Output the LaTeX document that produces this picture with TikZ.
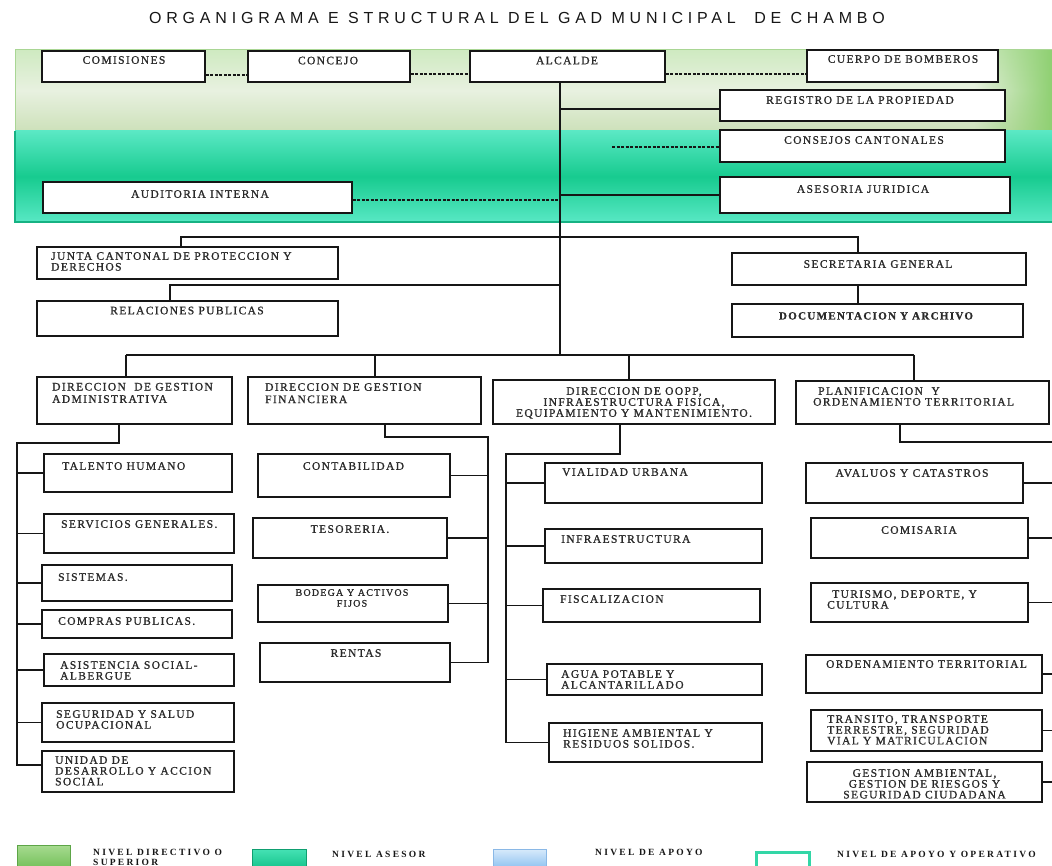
\documentclass[tikz,border=0pt]{standalone}
\usepackage{fontspec}
\setmainfont{Liberation Serif}
\newfontfamily\bxfont{Liberation Serif}[LetterSpace=12, FakeBold=1]
\newfontfamily\lgfont{Liberation Serif}[LetterSpace=24]
\newfontfamily\ttlfont{Liberation Sans}[LetterSpace=30]
\usetikzlibrary{fit,fadings}
\definecolor{gA}{HTML}{CFEAC1}
\definecolor{gB}{HTML}{E8F1E0}
\definecolor{gC}{HTML}{CDE1BA}
\definecolor{gEdge}{HTML}{A9D694}
\definecolor{gRight}{HTML}{8FD072}
\definecolor{tA}{HTML}{5AE8C4}
\definecolor{tB}{HTML}{17CB8F}
\definecolor{tC}{HTML}{58E8C4}
\definecolor{tEdge}{HTML}{16B283}
\definecolor{lgGa}{HTML}{A7DB90}
\definecolor{lgGb}{HTML}{74C05A}
\definecolor{lgGd}{HTML}{5DA547}
\definecolor{lgTa}{HTML}{45E2B4}
\definecolor{lgTb}{HTML}{16C48C}
\definecolor{lgTd}{HTML}{0F9F70}
\definecolor{lgBa}{HTML}{D8EAFB}
\definecolor{lgBb}{HTML}{8EC2F0}
\definecolor{lgBd}{HTML}{8AB8E6}
\definecolor{lgW}{HTML}{33D6A6}
\definecolor{ink}{HTML}{161616}
\definecolor{txt}{HTML}{2A2A2A}
\tikzfading[name=fadeR, left color=transparent!100, right color=transparent!0]
\newcommand\orgbox[3]{\node[box, fit={(#2) (#3)}] (#1) {};}
\tikzset{
  box/.style={draw=ink, line width=1.5pt, fill=white, inner sep=0pt},
  lb/.style={inner sep=0pt, text=txt, font=\bxfont\fontsize{11.5}{10.8}\selectfont},
  lbl/.style={lb, anchor=north west, align=left},
  lbc/.style={lb, anchor=north, align=center},
  ln/.style={draw=ink, line width=1.3pt},
  dsh/.style={draw=ink, line width=1.1pt, dash pattern=on 3pt off 1.5pt},
  lgtext/.style={inner sep=0pt, anchor=north west, align=left, text=ink,
    font=\lgfont\bfseries\fontsize{9.5}{9.2}\selectfont}
}
\begin{document}
\begin{tikzpicture}[x=1pt,y=-1pt]
\useasboundingbox (0,0) rectangle (1052,866);
% title
\node[anchor=base, inner sep=0pt, text=ink, font=\ttlfont\fontsize{16}{16}\selectfont] (title) at (517,24)
  {ORGANIGRAMA E STRUCTURAL DEL GAD MUNICIPAL\ \ DE CHAMBO};
% bands
\shade[top color=gA, bottom color=gC, middle color=gB] (15,50) rectangle (1052,131);
\fill[gRight, path fading=fadeR] (975,50) rectangle (1052,131);
\draw[gEdge, line width=1pt] (15,131) -- (15,50) -- (1052,50);
\shade[top color=tA, bottom color=tC, middle color=tB] (15,131) rectangle (1052,222);
\draw[tEdge, line width=1.2pt] (15,131) -- (15,222) -- (1052,222);
% boxes
\orgbox{comisiones}{42,51}{205,82}
\orgbox{concejo}{248,51}{410,82}
\orgbox{alcalde}{470,51}{665,82}
\orgbox{bomberos}{807,50}{998,82}
\orgbox{registro}{720,90}{1005,121}
\orgbox{consejos}{720,130}{1005,162}
\orgbox{asesoria}{720,177}{1010,213}
\orgbox{auditoria}{43,182}{352,213}
\orgbox{junta}{37,247}{338,279}
\orgbox{relaciones}{37,301}{338,336}
\orgbox{secretaria}{732,253}{1026,285}
\orgbox{documentacion}{732,304}{1023,337}
\orgbox{admin}{37,377}{232,424}
\orgbox{financiera}{248,377}{481,424}
\orgbox{oopp}{493,380}{775,424}
\orgbox{plan}{796,381}{1049,424}
\orgbox{talento}{44,454}{232,492}
\orgbox{servicios}{44,514}{234,553}
\orgbox{sistemas}{42,565}{232,601}
\orgbox{compras}{42,610}{232,638}
\orgbox{asistencia}{44,654}{234,686}
\orgbox{seguridad}{42,703}{234,742}
\orgbox{unidad}{42,751}{234,792}
\orgbox{contabilidad}{258,454}{450,497}
\orgbox{tesoreria}{253,518}{447,558}
\orgbox{bodega}{258,585}{448,622}
\orgbox{rentas}{260,643}{450,682}
\orgbox{vialidad}{545,463}{762,503}
\orgbox{infra}{545,529}{762,563}
\orgbox{fisca}{543,589}{760,622}
\orgbox{agua}{547,664}{762,695}
\orgbox{higiene}{549,723}{762,762}
\orgbox{avaluos}{806,463}{1023,503}
\orgbox{comisaria}{811,518}{1028,558}
\orgbox{turismo}{811,583}{1028,622}
\orgbox{ordenamiento}{806,655}{1042,693}
\orgbox{transito}{811,710}{1042,751}
\orgbox{gestion}{807,762}{1042,802}
% labels
\node[lbc] (t-comisiones) at (124,56) {COMISIONES};
\node[lbc] (t-concejo) at (328,56.5) {CONCEJO};
\node[lbc] (t-alcalde) at (567,56.5) {ALCALDE};
\node[lbc] (t-bomberos) at (903,55) {CUERPO DE BOMBEROS};
\node[lbc] (t-registro) at (860,96) {REGISTRO DE LA PROPIEDAD};
\node[lbc] (t-consejos) at (864,136) {CONSEJOS CANTONALES};
\node[lbc] (t-asesoria) at (863,185) {ASESORIA JURIDICA};
\node[lbc] (t-auditoria) at (200,190) {AUDITORIA INTERNA};
\node[lbl] (t-junta) at (51,252) {JUNTA CANTONAL DE PROTECCION Y\\DERECHOS};
\node[lbc] (t-relaciones) at (187,306.5) {RELACIONES PUBLICAS};
\node[lbc] (t-secretaria) at (878,260) {SECRETARIA GENERAL};
\node[lbc, font=\bxfont\bfseries\fontsize{11}{10.8}\selectfont] (t-documentacion) at (876,312) {DOCUMENTACION Y ARCHIVO};
\node[lbl, font=\bxfont\fontsize{11.5}{12.3}\selectfont] (t-admin) at (52,382.7) {DIRECCION\ \ DE GESTION\\ADMINISTRATIVA};
\node[lbl, font=\bxfont\fontsize{11.5}{12.3}\selectfont] (t-financiera) at (265,383) {DIRECCION DE GESTION\\FINANCIERA};
\node[lbc, font=\bxfont\fontsize{11.5}{11}\selectfont] (t-oopp) at (634,387) {DIRECCION DE OOPP,\\INFRAESTRUCTURA FISICA,\\EQUIPAMIENTO Y MANTENIMIENTO.};
\node[lbl] (t-plan) at (813,387) {\hspace{5pt}PLANIFICACION\ \ Y\\ORDENAMIENTO TERRITORIAL};
\node[lbl] (t-talento) at (62,462) {TALENTO HUMANO};
\node[lbl] (t-servicios) at (61,520) {SERVICIOS GENERALES.};
\node[lbl] (t-sistemas) at (58,573) {SISTEMAS.};
\node[lbl] (t-compras) at (58,617) {COMPRAS PUBLICAS.};
\node[lbl] (t-asistencia) at (60,661) {ASISTENCIA SOCIAL-\\ALBERGUE};
\node[lbl] (t-seguridad) at (56,710) {SEGURIDAD Y SALUD\\OCUPACIONAL};
\node[lbl] (t-unidad) at (55,756) {UNIDAD DE\\DESARROLLO Y ACCION\\SOCIAL};
\node[lbc] (t-contabilidad) at (353.5,462) {CONTABILIDAD};
\node[lbc] (t-tesoreria) at (350,525) {TESORERIA.};
\node[lbc, font=\bxfont\fontsize{10}{10.8}\selectfont] (t-bodega) at (352,589) {BODEGA Y ACTIVOS\\FIJOS};
\node[lbc] (t-rentas) at (356,649) {RENTAS};
\node[lbl] (t-vialidad) at (562,468) {VIALIDAD URBANA};
\node[lbl] (t-infra) at (561,535) {INFRAESTRUCTURA};
\node[lbl] (t-fisca) at (560,595) {FISCALIZACION};
\node[lbl] (t-agua) at (561,670) {AGUA POTABLE Y\\ALCANTARILLADO};
\node[lbl] (t-higiene) at (563,729) {HIGIENE AMBIENTAL Y\\RESIDUOS SOLIDOS.};
\node[lbc] (t-avaluos) at (912,469) {AVALUOS Y CATASTROS};
\node[lbc] (t-comisaria) at (919,526) {COMISARIA};
\node[lbl] (t-turismo) at (827,590) {\hspace{5pt}TURISMO, DEPORTE, Y\\CULTURA};
\node[lbc] (t-ordenamiento) at (926.5,660) {ORDENAMIENTO TERRITORIAL};
\node[lbl] (t-transito) at (827,715) {TRANSITO, TRANSPORTE\\TERRESTRE, SEGURIDAD\\VIAL Y MATRICULACION};
\node[lbc] (t-gestion) at (924.5,769) {GESTION AMBIENTAL,\\GESTION DE RIESGOS Y\\SEGURIDAD CIUDADANA};
% main trunk
\coordinate (tk) at (560,82);
\coordinate (hL) at (126,355);
\coordinate (hR) at (914,355);
\coordinate (vF) at (375,355);
\coordinate (vO) at (629,355);
\draw[ln] (tk) -- (tk |- hL);
\draw[ln] (hL) -- (hR);
\draw[ln] (hL) -- (hL |- admin.north);
\draw[ln] (vF) -- (vF |- financiera.north);
\draw[ln] (vO) -- (vO |- oopp.north);
\draw[ln] (hR) -- (hR |- plan.north);
% upper connectors
\draw[ln] ([yshift=-3.5pt]registro.west) -- ([yshift=-3.5pt]registro.west -| tk);
\draw[ln] (asesoria.west) -- (asesoria.west -| tk);
\coordinate (cd) at (612,147);
\draw[dsh] (cd) -- (cd -| consejos.west);
\draw[dsh] ([yshift=-2.5pt]auditoria.east) -- ([yshift=-2.5pt]auditoria.east -| tk);
\draw[dsh] ([yshift=-8.5pt]comisiones.east) -- ([yshift=-8.5pt]concejo.west);
\draw[dsh] ([yshift=-7.5pt]concejo.east) -- ([yshift=-7.5pt]alcalde.west);
\draw[dsh] ([yshift=-7.5pt]alcalde.east) -- ([yshift=-7.5pt]alcalde.east -| bomberos.west);
% junta / secretaria / relaciones
\coordinate (jA) at (181,237);
\coordinate (jB) at (858,237);
\draw[ln] (jA |- junta.north) -- (jA) -- (jB) -- (jB |- secretaria.north);
\draw[ln] (jB |- secretaria.south) -- (jB |- documentacion.north);
\coordinate (rA) at (170,285);
\draw[ln] (rA |- relaciones.north) -- (rA) -- (rA -| tk);
% administrativa
\coordinate (aA) at (119,443);
\coordinate (aT) at (17,443);
\coordinate (aB) at (17,765);
\draw[ln] (aA |- admin.south) -- (aA) -- (aT) -- (aB) -- (aB -| unidad.west);
\foreach \n in {talento,servicios,sistemas,compras,asistencia,seguridad}
  \draw[ln] (\n.west) -- (\n.west -| aT);
% financiera
\coordinate (fA) at (385,437);
\coordinate (fT) at (488,437);
\draw[ln] (fA |- financiera.south) -- (fA) -- (fT) -- (fT |- rentas.east);
\foreach \n in {contabilidad,tesoreria,bodega,rentas}
  \draw[ln] (\n.east) -- (\n.east -| fT);
% oopp
\coordinate (oA) at (620,454);
\coordinate (oT) at (506,454);
\draw[ln] (oA |- oopp.south) -- (oA) -- (oT) -- (oT |- higiene.west);
\foreach \n in {vialidad,infra,fisca,agua,higiene}
  \draw[ln] (\n.west) -- (\n.west -| oT);
% planificacion
\coordinate (pA) at (900,442);
\coordinate (pE) at (1052,442);
\draw[ln] (pA |- plan.south) -- (pA) -- (pE);
\foreach \n in {avaluos,comisaria,turismo,ordenamiento,transito,gestion}
  \draw[ln] (\n.east) -- (\n.east -| pE);
% legend
\shade[top color=lgGa, bottom color=lgGb, draw=lgGd, line width=0.8pt] (17,845) rectangle (70,868);
\node[lgtext] (lg1) at (93,849.5) {NIVEL DIRECTIVO O\\SUPERIOR};
\shade[top color=lgTa, bottom color=lgTb, draw=lgTd, line width=0.8pt] (252,849) rectangle (306,868);
\node[lgtext] (lg2) at (332,851.5) {NIVEL ASESOR};
\shade[top color=lgBa, bottom color=lgBb, draw=lgBd, line width=0.8pt] (493,849) rectangle (546,868);
\node[lgtext] (lg3) at (595,849.5) {NIVEL DE APOYO};
\draw[lgW, line width=3pt] (756.5,852.5) rectangle (809.5,869);
\node[lgtext] (lg4) at (837,851.5) {NIVEL DE APOYO Y OPERATIVO};
\end{tikzpicture}
\end{document}
